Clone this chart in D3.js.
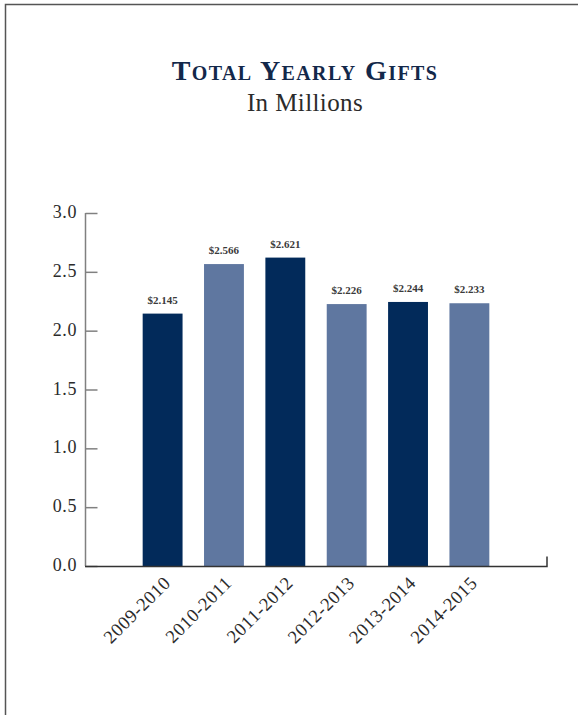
<!DOCTYPE html>
<html><head><meta charset="utf-8">
<script src="https://cdn.jsdelivr.net/npm/d3@7"></script>
<style>
html,body{margin:0;padding:0;background:#fff;}
svg{display:block;}
</style></head>
<body>
<svg id="chart" width="578" height="715"></svg>
<script>
const categories = ["2009-2010","2010-2011","2011-2012","2012-2013","2013-2014","2014-2015"];
const values = [2.145, 2.566, 2.621, 2.226, 2.244, 2.233];
const valueLabels = ["$2.145","$2.566","$2.621","$2.226","$2.244","$2.233"];
const barColors = ["#022a5a","#5f77a0","#022a5a","#5f77a0","#022a5a","#5f77a0"];
const yTicks = [0, 0.5, 1.0, 1.5, 2.0, 2.5, 3.0];
const title = "Total Yearly Gifts";
const subtitle = "In Millions";

const svg = d3.select("#chart");
const font = "'Liberation Serif', 'DejaVu Serif', serif";

// frame
svg.append("path").attr("d","M5.5,715 L5.5,4.5 L578,4.5")
  .attr("fill","none").attr("stroke","#555").attr("stroke-width",1.5);

const y = d3.scaleLinear().domain([0,3]).range([566,213]);
const x = d3.scaleBand().domain(categories).range([85,547]).paddingInner(0.35).paddingOuter(0.94);

// title
svg.append("text").attr("x",305).attr("y",80).attr("text-anchor","middle")
  .attr("font-family",font).attr("font-size",28).attr("font-weight","bold")
  .attr("font-variant","small-caps").attr("fill","#13284a").attr("letter-spacing",1.4)
  .text(title);
svg.append("text").attr("x",305).attr("y",111).attr("text-anchor","middle")
  .attr("font-family",font).attr("font-size",25).attr("fill","#2b2b2b")
  .attr("letter-spacing",0.4)
  .text(subtitle);

// y axis
const yAxis = d3.axisRight(y).tickValues(yTicks).tickSize(12).tickFormat("");
const yg = svg.append("g").attr("transform","translate(85.5,0)").call(yAxis);
yg.select(".domain").attr("stroke","#808080").attr("stroke-width",1.5).attr("d","M0,213 V566");
yg.selectAll(".tick line").attr("stroke","#808080").attr("stroke-width",1.5);
svg.append("g").selectAll("text").data(yTicks).join("text")
  .attr("x",77).attr("y",d=>y(d)+5).attr("text-anchor","end")
  .attr("font-family",font).attr("font-size",18).attr("fill","#2b2b2b")
  .attr("letter-spacing",0.6)
  .text(d=>d3.format(".1f")(d));

// bars
svg.append("g").selectAll("rect").data(values).join("rect")
  .attr("x",(d,i)=>x(categories[i])).attr("width",x.bandwidth())
  .attr("y",d=>y(d)).attr("height",d=>y(0)-y(d))
  .attr("fill",(d,i)=>barColors[i]);

// value labels
svg.append("g").selectAll("text").data(values).join("text")
  .attr("x",(d,i)=>x(categories[i])+x.bandwidth()/2).attr("y",d=>y(d)-10)
  .attr("text-anchor","middle").attr("font-family",font).attr("font-size",11)
  .attr("font-weight","bold").attr("fill","#3a3a3a").text((d,i)=>valueLabels[i]);

// x axis
const xAxis = d3.axisBottom(x).tickSize(0).tickFormat("");
const xg = svg.append("g").attr("transform","translate(0,566.5)").call(xAxis);
xg.select(".domain").attr("stroke","#333").attr("stroke-width",1.5).attr("d","M85,0 H547 V-10");
svg.append("g").selectAll("text").data(categories).join("text")
  .attr("transform",d=>`translate(${x(d)+x.bandwidth()/2+9},584) rotate(-45)`)
  .attr("text-anchor","end").attr("font-family",font).attr("font-size",18.5)
  .attr("letter-spacing",0.6)
  .attr("fill","#2b2b2b").text(d=>d);
</script>
</body></html>
